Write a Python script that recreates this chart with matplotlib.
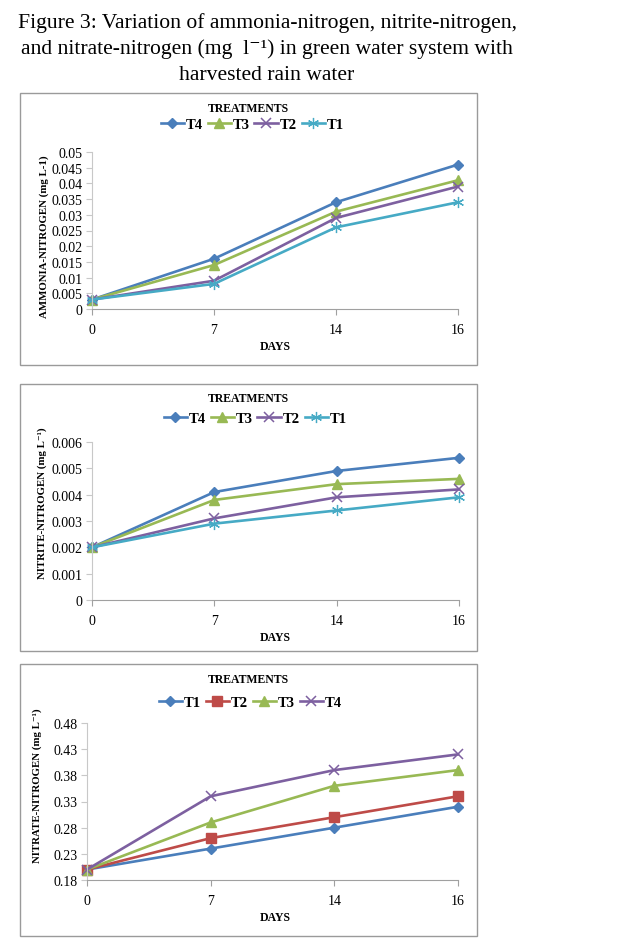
import numpy as np
import matplotlib
matplotlib.use("Agg")
import matplotlib.pyplot as plt
from matplotlib.patches import Rectangle

plt.rcParams['font.family'] = ['Liberation Serif', 'DejaVu Serif']

W, H = 634, 945

days = ['0', '7', '14', '16']

# ammonia-nitrogen (mg L-1)
amm_t4 = [0.003, 0.016, 0.034, 0.046]
amm_t3 = [0.003, 0.014, 0.031, 0.041]
amm_t2 = [0.003, 0.009, 0.029, 0.039]
amm_t1 = [0.003, 0.008, 0.026, 0.034]

# nitrite-nitrogen
nit_t4 = [0.002, 0.0041, 0.0049, 0.0054]
nit_t3 = [0.002, 0.0038, 0.0044, 0.0046]
nit_t2 = [0.002, 0.0031, 0.0039, 0.0042]
nit_t1 = [0.002, 0.0029, 0.0034, 0.0039]

# nitrate-nitrogen
nat_t1 = [0.20, 0.24, 0.28, 0.32]
nat_t2 = [0.20, 0.26, 0.30, 0.34]
nat_t3 = [0.20, 0.29, 0.36, 0.39]
nat_t4 = [0.20, 0.34, 0.39, 0.42]

amm_ticks = [0, 0.005, 0.01, 0.015, 0.02, 0.025, 0.03, 0.035, 0.04, 0.045, 0.05]
amm_labels = ['0', '0.005', '0.01', '0.015', '0.02', '0.025', '0.03', '0.035', '0.04', '0.045', '0.05']
nit_ticks = [0, 0.001, 0.002, 0.003, 0.004, 0.005, 0.006]
nit_labels = ['0', '0.001', '0.002', '0.003', '0.004', '0.005', '0.006']
nat_ticks = [0.18, 0.23, 0.28, 0.33, 0.38, 0.43, 0.48]
nat_labels = ['0.18', '0.23', '0.28', '0.33', '0.38', '0.43', '0.48']

BLUE = '#4A7EBB'
RED = '#BE4B48'
GREEN = '#98B954'
PURPLE = '#7D60A0'
CYAN = '#46AAC5'

STY = {
    'diamond': dict(marker='D', ms=5),
    'square': dict(marker='s', ms=7),
    'tri': dict(marker='^', ms=7),
    'x': dict(marker='x', ms=7, mew=1.1),
    'star': dict(marker=(6, 2, 0), ms=8, mew=0.9),
}


def px_ax(x0, y0, x1, y1):
    return fig.add_axes([x0 / W, 1 - y1 / H, (x1 - x0) / W, (y1 - y0) / H])


def panel(box, area, series, ticks, labels, ylabel, ylab_xy, treat_y, leg_y, leg_x, days_y):
    bx0, by0, bx1, by1 = box
    fig.patches.append(Rectangle((bx0 / W, 1 - by1 / H), (bx1 - bx0) / W, (by1 - by0) / H,
                                 transform=fig.transFigure, fill=False,
                                 edgecolor='#9a9a9a', lw=1.0))
    ax = px_ax(*area)
    xs = np.arange(len(days))
    handles = []
    for name, vals, color, mk in series:
        h, = ax.plot(xs, vals, color=color, lw=1.9, markerfacecolor=color,
                     markeredgecolor=color, clip_on=False, label=name, **STY[mk])
        handles.append(h)
    ax.set_xlim(0, 3)
    ax.set_ylim(ticks[0], ticks[-1])
    ax.set_xticks(xs)
    ax.set_xticklabels(days, fontsize=10)
    ax.set_yticks(ticks)
    ax.set_yticklabels(labels, fontsize=10)
    for s in ['top', 'right']:
        ax.spines[s].set_visible(False)
    ax.spines['left'].set_color('#c8c8c8')
    ax.spines['bottom'].set_color('#a0a0a0')
    ax.tick_params(axis='y', length=4, color='#c8c8c8', pad=3)
    ax.tick_params(axis='x', length=4, color='#a0a0a0', pad=6)
    fig.text(ylab_xy[0] / W, 1 - ylab_xy[1] / H, ylabel, rotation=90,
             ha='center', va='center', fontsize=7.8, fontweight='bold')
    fig.text(248 / W, 1 - treat_y / H, 'TREATMENTS', ha='center', va='center',
             fontsize=8.5, fontweight='bold')
    fig.legend(handles=handles, loc='center', bbox_to_anchor=(leg_x / W, 1 - leg_y / H),
               ncol=4, frameon=False, handlelength=1.6, handletextpad=0.1,
               columnspacing=0.35, prop={'weight': 'bold', 'size': 10.5})
    fig.text(275 / W, 1 - days_y / H, 'DAYS', ha='center', va='center',
             fontsize=8.5, fontweight='bold')
    return ax


fig = plt.figure(figsize=(W / 100, H / 100), dpi=100)

tx = 267 / W
fig.text(tx, 1 - 23 / H, 'Figure 3: Variation of ammonia-nitrogen, nitrite-nitrogen,',
         ha='center', va='center', fontsize=15.6)
fig.text(tx, 1 - 49 / H, 'and nitrate-nitrogen (mg  l\u207b\u00b9) in green water system with',
         ha='center', va='center', fontsize=15.6)
fig.text(tx, 1 - 76 / H, 'harvested rain water', ha='center', va='center', fontsize=15.6)

panel((20, 94, 477, 366), (92, 153, 458, 310),
      [('T4', amm_t4, BLUE, 'diamond'), ('T3', amm_t3, GREEN, 'tri'),
       ('T2', amm_t2, PURPLE, 'x'), ('T1', amm_t1, CYAN, 'star')],
      amm_ticks, amm_labels, 'AMMONIA-NITROGEN (mg L-1)', (44, 237), 109, 125, 252, 347)

panel((20, 385, 477, 652), (92, 443, 459, 601),
      [('T4', nit_t4, BLUE, 'diamond'), ('T3', nit_t3, GREEN, 'tri'),
       ('T2', nit_t2, PURPLE, 'x'), ('T1', nit_t1, CYAN, 'star')],
      nit_ticks, nit_labels, 'NITRITE-NITROGEN (mg L\u207b\u00b9)', (42, 503), 399, 419, 255, 638)

panel((20, 665, 477, 937), (87, 724, 458, 881),
      [('T1', nat_t1, BLUE, 'diamond'), ('T2', nat_t2, RED, 'square'),
       ('T3', nat_t3, GREEN, 'tri'), ('T4', nat_t4, PURPLE, 'x')],
      nat_ticks, nat_labels, 'NITRATE-NITROGEN (mg L\u207b\u00b9)', (37, 786), 680, 703, 250, 918)

fig.savefig('out.png', dpi=100)
